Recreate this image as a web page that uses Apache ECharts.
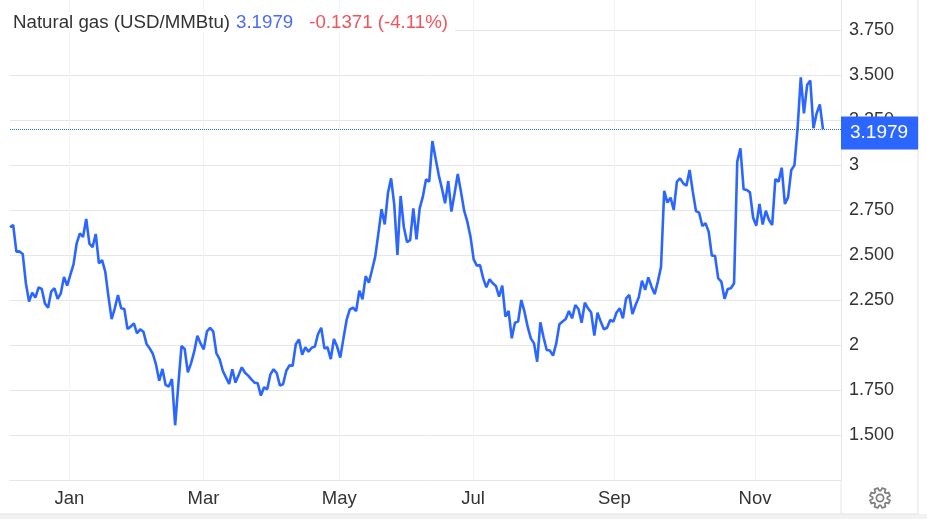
<!DOCTYPE html>
<html><head><meta charset="utf-8">
<style>html,body{margin:0;padding:0;background:#fff}#c{width:927px;height:519px}</style>
<script src="https://cdn.jsdelivr.net/npm/echarts@6/dist/echarts.min.js"></script>
</head><body><div id="c"></div>
<script>
const values = [
2.654,2.667,2.519,2.520,2.506,2.343,2.241,2.291,2.263,2.320,
2.311,2.231,2.207,2.298,2.315,2.256,2.287,2.378,2.330,2.389,
2.448,2.565,2.620,2.600,2.700,2.563,2.543,2.617,2.454,2.472,
2.407,2.269,2.144,2.204,2.278,2.204,2.200,2.089,2.102,2.120,
2.065,2.087,2.074,2.006,1.981,1.950,1.889,1.802,1.867,1.778,
1.769,1.811,1.554,1.778,1.994,1.978,1.848,1.898,1.963,2.052,
2.009,1.976,2.074,2.096,2.074,1.954,1.922,1.857,1.820,1.783,
1.865,1.791,1.833,1.876,1.846,1.830,1.809,1.791,1.787,1.719,
1.765,1.754,1.837,1.865,1.843,1.774,1.783,1.857,1.887,1.885,
2.004,2.031,1.946,1.987,1.963,
1.985,1.991,2.061,2.096,1.981,1.987,1.922,2.033,1.991,1.930,
2.037,2.139,2.198,2.207,2.189,2.302,2.254,2.383,2.346,2.417,
2.491,2.620,2.754,2.670,2.843,2.926,2.778,2.500,2.828,2.657,
2.572,2.583,2.759,2.587,2.759,2.824,2.920,2.907,3.133,3.037,
2.944,2.870,2.787,2.911,2.741,2.843,2.950,2.852,2.746,2.685,
2.602,2.476,2.441,2.444,2.370,2.320,2.365,2.343,2.328,2.269,
2.330,2.157,2.189,2.037,2.124,2.130,2.250,2.185,2.102,2.037,
2.009,1.907,2.126,2.043,1.972,1.969,1.941,2.009,2.115,2.130,
2.144,2.189,2.148,2.222,2.200,2.124,2.235,2.204,2.180,2.052,
2.180,2.130,2.087,2.096,2.139,
2.130,2.181,2.204,2.148,2.259,2.278,2.172,2.222,2.265,2.357,
2.306,2.376,2.324,2.283,2.352,2.435,2.856,2.791,2.819,2.750,
2.907,2.926,2.898,2.885,2.972,2.852,2.744,2.735,2.661,2.676,
2.630,2.496,2.496,2.370,2.352,2.257,2.311,2.315,2.343,3.019,
3.093,2.865,2.861,2.848,2.707,2.663,2.783,2.669,2.746,2.694,
2.667,2.922,2.907,2.985,2.783,2.820,2.972,2.998,3.204,3.487,
3.287,3.444,3.469,3.204,3.287,3.337,3.1979
];
const lastPrice = 3.1979;
const change = "-0.1371";
const changePct = "(-4.11%)";
const seriesName = "Natural gas (USD/MMBtu)";
const months = ["Jan","Mar","May","Jul","Sep","Nov"];
const monthTicks = [18.7,60.9,103.7,145.8,190.3,234.6];
const yTickLabels = ["","1.500","1.750","2","2.250","2.500","2.750","3","3.250","3.500","3.750",""];

const BLUE = "#2a66ff";
const GRID = "#e6e6e6";
const FONT = "'Liberation Sans', Arial, sans-serif";
const xMax = (values.length - 1) * 831 / 813;

// settings-gear outline (decoration only)
const gearPts = [];
for (let t = 0; t < 8; t++) {
  const a = (t / 8) * Math.PI * 2 + Math.PI / 8;
  [[-0.30, 7.4], [-0.17, 10.2], [0.17, 10.2], [0.30, 7.4]].forEach(p => {
    gearPts.push([880 + p[1] * Math.cos(a + p[0]), 498 + p[1] * Math.sin(a + p[0])]);
  });
}

const chart = echarts.init(document.getElementById("c"), null, {renderer: "canvas"});
chart.setOption({
  animation: false,
  backgroundColor: "#ffffff",
  textStyle: {fontFamily: FONT},
  title: {
    left: 13, top: 13, padding: 0, z: 20,
    text: "{a|" + seriesName + "}{b|" + lastPrice.toFixed(4) + "}{c|" + change + " " + changePct + "}",
    textStyle: {
      fontWeight: "normal",
      rich: {
        a: {fontFamily: FONT, fontSize: 18.7, fontWeight: "normal", color: "#333333"},
        b: {fontFamily: FONT, fontSize: 18.7, fontWeight: "normal", color: "#4a6cf7", padding: [0,0,0,6]},
        c: {fontFamily: FONT, fontSize: 18.7, fontWeight: "normal", color: "#f4525a", padding: [0,0,0,16]}
      }
    }
  },
  grid: {left: 10, right: 86, top: -15, height: 495, containLabel: false, outerBoundsMode: "none"},
  xAxis: {
    type: "value", min: 0, max: xMax,
    axisLine: {show: true, onZero: false, lineStyle: {color: GRID, width: 1}},
    axisTick: {show: false, customValues: monthTicks},
    splitLine: {show: true, lineStyle: {color: "#f0f3f8", width: 1}},
    axisLabel: {
      customValues: monthTicks, margin: 9,
      fontFamily: FONT, fontSize: 18.5, color: "#333333",
      formatter: v => months[monthTicks.indexOf(v)]
    }
  },
  yAxis: {
    type: "value", position: "right", min: 1.25, max: 4, interval: 0.25,
    axisLine: {show: true, onZero: false, lineStyle: {color: GRID, width: 1}},
    axisTick: {show: false},
    splitLine: {show: true, lineStyle: {color: GRID, width: 1}},
    axisLabel: {
      margin: 8, fontFamily: FONT, fontSize: 18, color: "#333333",
      padding: [4, 0, 0, 0],
      formatter: (v, i) => yTickLabels[i]
    }
  },
  series: [{
    type: "line", name: seriesName,
    data: values.map((v, i) => [i, v]),
    showSymbol: false, symbol: "none", smooth: false,
    lineStyle: {color: BLUE, width: 2.6},
    z: 5,
    markLine: {
      silent: true, symbol: "none", animation: false,
      lineStyle: {color: BLUE, type: "dotted", width: 1},
      label: {
        show: true, position: "end", distance: 0, offset: [0, 4],
        formatter: lastPrice.toFixed(4), color: "#fff",
        fontFamily: FONT, fontSize: 19, backgroundColor: BLUE,
        padding: [7, 10, 7, 9], lineHeight: 19
      },
      data: [{yAxis: lastPrice}]
    }
  }],
  graphic: [
    {type: "rect", z: 10, shape: {x: 10, y: 12, width: 445, height: 20}, style: {fill: "#fff"}},
    {type: "line", z: 1, shape: {x1: 918, y1: 0, x2: 918, y2: 514}, style: {stroke: "#e3e3e3", lineWidth: 1}},
    {type: "line", z: 1, shape: {x1: 841, y1: 480, x2: 841, y2: 514}, style: {stroke: GRID, lineWidth: 1}},
    {type: "rect", z: 1, shape: {x: 0, y: 514, width: 927, height: 5}, style: {fill: "#f2f2f2"}},
    {type: "line", z: 1, shape: {x1: 0, y1: 514, x2: 918, y2: 514}, style: {stroke: "#e3e3e3", lineWidth: 1}},
    {type: "polygon", z: 11, shape: {points: gearPts}, style: {fill: "none", stroke: "#7f7f7f", lineWidth: 1.7}},
    {type: "circle", z: 11, shape: {cx: 880, cy: 498, r: 3.6}, style: {fill: "none", stroke: "#7f7f7f", lineWidth: 1.7}}
  ]
});
</script>
</body></html>
